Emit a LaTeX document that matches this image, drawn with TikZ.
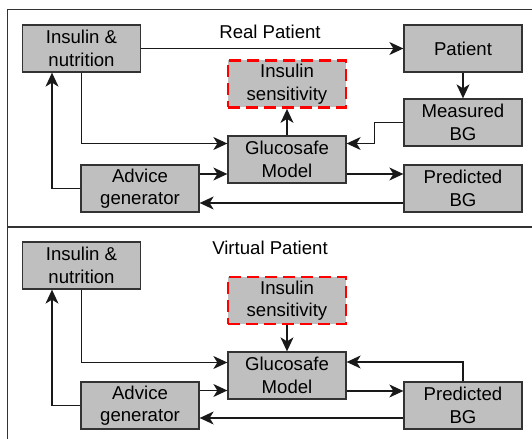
\documentclass[tikz,border=0pt]{standalone}
\usepackage{fontspec}
\setmainfont{Liberation Sans}
\usetikzlibrary{arrows.meta}

\begin{document}
\begin{tikzpicture}[
    block/.style={draw=black!80,fill=black!25,line width=.65pt,minimum width=59pt,minimum height=23.5pt,inner sep=0pt,align=center,font=\fontsize{9.3}{11.2}\selectfont},
    sens/.style={block,draw=red,line width=1.4pt,dash pattern=on 6pt off 3pt},
    title/.style={font=\fontsize{9.3}{11.2}\selectfont},
    line/.style={line width=.65pt,draw=black!90,-{Stealth[length=7pt,width=6.5pt,inset=2pt]}},
    x=.5pt,y=-.5pt
    ]
    \useasboundingbox (0,0) rectangle (532,439);
    \draw[black!80,line width=.5pt] (532,10) -- (8,10) -- (8,439);
    \draw[black!80,line width=1pt] (8,227.5) -- (532,227.5);

    \node[title](realt) at (270,32){Real Patient};
    \node[block](insA) at (81.5,48.5){Insulin \&\\nutrition};
    \node[block](patient) at (463,48.5){Patient};
    \node[sens](sensA) at (287,84){Insulin\\sensitivity};
    \node[block](measured) at (463,122.5){Measured\\BG};
    \node[block](modelA) at (287,159.5){Glucosafe\\Model};
    \node[block](predA) at (463,188.5){Predicted\\BG};
    \node[block](adviceA) at (140,188.5){Advice\\generator};
    \draw[line] (insA.east) -- (patient.west);
    \draw[line] (insA.south) |- ([yshift=8pt]modelA.west);
    \draw[line] ([yshift=7.25pt]adviceA.east) -- ([yshift=-7.25pt]modelA.west);
    \draw[line] ([yshift=-7.25pt]predA.west) -- ([yshift=-7.25pt]adviceA.east);
    \draw[line] (adviceA.west) -| ([xshift=-14.75pt]insA.south);
    \draw[line] (patient) -- (measured);
    \draw[line] (modelA) -- (sensA);
    \draw[line] (measured.west) -- ++(-29,0) |- ([yshift=8pt]modelA.east);
    \draw[line] ([yshift=-7.25pt]modelA.east) -- ([yshift=7.25pt]predA.west);

    \node[title](virtt) at (270,248){Virtual Patient};
    \node[block](insB) at (81.5,265.5){Insulin \&\\nutrition};
    \node[sens](sensB) at (287,300.5){Insulin\\sensitivity};
    \node[block](modelB) at (287,375.5){Glucosafe\\Model};
    \node[block](adviceB) at (140,405.5){Advice\\generator};
    \node[block](predB) at (463,405.5){Predicted\\BG};
    \draw[line] (insB.south) |- ([yshift=6.5pt]modelB.west);
    \draw[line] ([yshift=7.5pt]adviceB.east) -- ([yshift=-7.5pt]modelB.west);
    \draw[line] ([yshift=-6.25pt]predB.west) -- ([yshift=-6.25pt]adviceB.east);
    \draw[line] (adviceB.west) -| ([xshift=-14.75pt]insB.south);
    \draw[line] (sensB) -- (modelB);
    \draw[line] (predB.north) |- ([yshift=6.75pt]modelB.east);
    \draw[line] ([yshift=-7.75pt]modelB.east) -- ([yshift=7.25pt]predB.west);
  \end{tikzpicture}
\end{document}
